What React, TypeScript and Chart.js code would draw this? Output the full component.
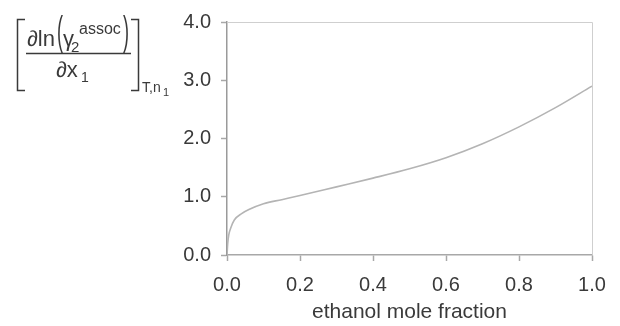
import React, { useEffect, useRef } from "react";
import { Chart, registerables } from "chart.js";

Chart.register(...registerables);

const moleFraction = [0, 0.002, 0.005, 0.01, 0.02, 0.04, 0.06, 0.1, 0.15, 0.2, 0.3, 0.4, 0.5, 0.6, 0.7, 0.8, 0.9, 1.0];
const derivative = [0, 0.2, 0.35, 0.46, 0.6, 0.71, 0.78, 0.88, 0.95, 1.02, 1.17, 1.32, 1.48, 1.67, 1.91, 2.2, 2.53, 2.9];
const xTitle = "ethanol mole fraction";

const FONT = "'Liberation Sans', Arial, sans-serif";
const TEXT = "#3a3a3a";

const frame = {
  id: "frame",
  beforeDatasetsDraw(chart: any) {
    const { ctx, chartArea } = chart;
    ctx.save();
    ctx.strokeStyle = "#cfcfcf";
    ctx.lineWidth = 1;
    ctx.beginPath();
    ctx.moveTo(chartArea.left, chartArea.top + 0.5);
    ctx.lineTo(chartArea.right + 0.5, chartArea.top + 0.5);
    ctx.lineTo(chartArea.right + 0.5, chartArea.bottom);
    ctx.stroke();
    ctx.restore();
  },
};

const yLabel = {
  id: "yLabel",
  afterDraw(chart: any) {
    const ctx = chart.ctx as CanvasRenderingContext2D;
    ctx.save();
    ctx.fillStyle = TEXT;
    ctx.strokeStyle = TEXT;
    ctx.lineWidth = 1.5;
    ctx.textBaseline = "alphabetic";
    ctx.textAlign = "left";
    // brackets
    ctx.beginPath();
    ctx.moveTo(25, 19.5);
    ctx.lineTo(17.5, 19.5);
    ctx.lineTo(17.5, 90.5);
    ctx.lineTo(25, 90.5);
    ctx.moveTo(131, 19.5);
    ctx.lineTo(138.5, 19.5);
    ctx.lineTo(138.5, 90.5);
    ctx.lineTo(131, 90.5);
    // fraction bar
    ctx.moveTo(26, 53.5);
    ctx.lineTo(131, 53.5);
    ctx.stroke();
    // numerator
    ctx.font = `22px ${FONT}`;
    ctx.fillText("\u2202ln", 27, 46);
    const paren = (s: string, x: number) => {
      ctx.save();
      ctx.translate(x, 45);
      ctx.scale(0.45, 1);
      ctx.font = `40px ${FONT}`;
      ctx.fillText(s, 0, 0);
      ctx.restore();
    };
    paren("(", 57);
    ctx.font = `22px ${FONT}`;
    ctx.fillText("\u03b3", 63, 46);
    ctx.font = `15px ${FONT}`;
    ctx.fillText("2", 71, 52);
    ctx.font = `16px ${FONT}`;
    ctx.fillText("assoc", 79, 34);
    paren(")", 123);
    // denominator
    ctx.font = `22px ${FONT}`;
    ctx.fillText("\u2202x", 56, 77);
    ctx.font = `14px ${FONT}`;
    ctx.fillText("1", 81, 82);
    // outer subscript
    ctx.font = `14px ${FONT}`;
    ctx.fillText("T,n", 142, 92);
    ctx.font = `11px ${FONT}`;
    ctx.fillText("1", 163, 96);
    ctx.restore();
  },
};

export default function App() {
  const ref = useRef<HTMLCanvasElement>(null);
  useEffect(() => {
    if (!ref.current) return;
    const chart = new Chart(ref.current, {
      type: "line",
      data: {
        datasets: [
          {
            data: moleFraction.map((x, i) => ({ x, y: derivative[i] })),
            borderColor: "#b4b4b4",
            borderWidth: 1.6,
            pointRadius: 0,
            cubicInterpolationMode: "monotone",
            fill: false,
          },
        ],
      },
      options: {
        animation: false,
        responsive: false,
        layout: { padding: { left: 0, right: 28, top: 13, bottom: 0 } },
        plugins: { legend: { display: false }, tooltip: { enabled: false } },
        scales: {
          x: {
            type: "linear",
            min: 0,
            max: 1,
            afterFit: (s: any) => {
              s.height = 71;
            },
            border: { color: "#a8a8a8", width: 1.5 },
            grid: { drawOnChartArea: false, drawTicks: true, tickLength: 6, tickColor: "#a8a8a8", tickWidth: 1.5 },
            ticks: {
              stepSize: 0.2,
              padding: 12,
              color: TEXT,
              font: { family: FONT, size: 20 },
              maxRotation: 0,
              callback: (v: any) => Number(v).toFixed(1),
            },
            title: {
              display: true,
              text: xTitle,
              color: TEXT,
              font: { family: FONT, size: 21 },
              padding: { top: 0, bottom: 1 },
            },
          },
          y: {
            type: "linear",
            min: 0,
            max: 4,
            afterFit: (s: any) => {
              s.width = 227;
            },
            border: { color: "#9a9a9a", width: 1.5 },
            grid: { drawOnChartArea: false, drawTicks: true, tickLength: 6, tickColor: "#a8a8a8", tickWidth: 1.5 },
            ticks: {
              stepSize: 1,
              padding: 10,
              color: TEXT,
              font: { family: FONT, size: 20 },
              callback: (v: any) => Number(v).toFixed(1),
            },
          },
        },
      },
      plugins: [frame, yLabel],
    });
    return () => chart.destroy();
  }, []);
  return (
    <div style={{ position: "absolute", left: 0, top: 0, width: 620, height: 326, background: "#fff" }}>
      <canvas ref={ref} width={620} height={326} style={{ display: "block" }} />
    </div>
  );
}
